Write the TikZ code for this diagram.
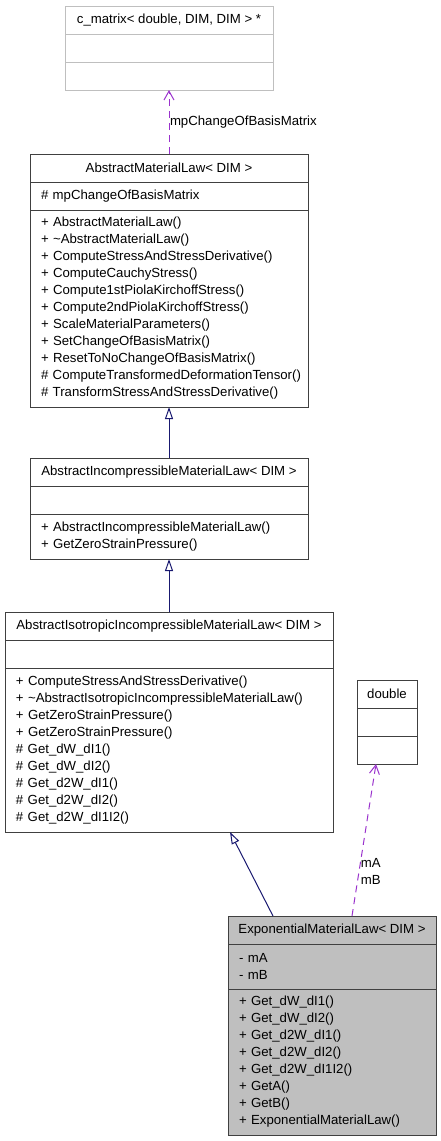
\documentclass[tikz,border=0pt]{standalone}
\usepackage{fontspec}
\setmainfont{Liberation Sans}
\usetikzlibrary{positioning,arrows.meta}
\definecolor{edgeblue}{HTML}{191970}
\definecolor{edgepurple}{HTML}{9A32CD}
\definecolor{boxgray}{HTML}{BFBFBF}
\definecolor{linegray}{HTML}{404040}

\begin{document}
\begin{tikzpicture}[x=1pt, y=-1pt,
			every node/.style = {shape=rectangle,
					draw=linegray, line width=1pt,
					inner sep=0pt, outer sep=0pt,
					font=\fontsize{13.2}{17}\selectfont},
				classname/.style = {minimum width=#1, minimum height=28pt, align=center},
				compartment/.style = {text width=#1, inner xsep=11pt, align=left, minimum height=28pt},
				ext/.style = {draw=boxgray},
				current/.style = {fill=boxgray},
				edgelabel/.style = {draw=none, anchor=west, align=left},
				inherit/.style = {draw=edgeblue, line width=1pt,
					-{Triangle[open, length=12pt, width=8pt]}},
				uses/.style = {draw=edgepurple, line width=1pt, dash pattern=on 7pt off 5pt,
					-{Straight Barb[length=9pt, width=10pt]}}]
			\useasboundingbox (0,0) rectangle (441,1141);

			\node[classname=208pt, ext] (cm) at (169,20) {c\_matrix< double, DIM, DIM > *};
			\node[compartment=186pt, ext, below=0pt of cm] (cm-attr) {};
			\node[compartment=186pt, ext, below=0pt of cm-attr] (cm-ops) {};

			\node[classname=278pt] (aml) at (169,168) {AbstractMaterialLaw< DIM >};
			\node[compartment=256pt, below=0pt of aml] (aml-attr) {\# mpChangeOfBasisMatrix};
			\node[compartment=256pt, minimum height=197pt, below=0pt of aml-attr] (aml-ops) {+ AbstractMaterialLaw()\\
				+ \textasciitilde AbstractMaterialLaw()\\
				+ ComputeStressAndStressDerivative()\\
				+ ComputeCauchyStress()\\
				+ Compute1stPiolaKirchoffStress()\\
				+ Compute2ndPiolaKirchoffStress()\\
				+ ScaleMaterialParameters()\\
				+ SetChangeOfBasisMatrix()\\
				+ ResetToNoChangeOfBasisMatrix()\\
				\mbox{\# ComputeTransformedDeformationTensor()}\\
				\# TransformStressAndStressDerivative()};

			\node[classname=278pt] (aincml) at (169,472) {AbstractIncompressibleMaterialLaw< DIM >};
			\node[compartment=256pt, below=0pt of aincml] (aincml-attr) {};
			\node[compartment=256pt, minimum height=45pt, below=0pt of aincml-attr] (aincml-ops) {+ AbstractIncompressibleMaterialLaw()\\
				+ GetZeroStrainPressure()};

			\node[classname=328pt] (aisoml) at (169,626) {AbstractIsotropicIncompressibleMaterialLaw< DIM >};
			\node[compartment=306pt, below=0pt of aisoml] (aisoml-attr) {};
			\node[compartment=306pt, minimum height=164pt, below=0pt of aisoml-attr] (aisoml-ops) {+ ComputeStressAndStressDerivative()\\
				+ \textasciitilde AbstractIsotropicIncompressibleMaterialLaw()\\
				+ GetZeroStrainPressure()\\
				+ GetZeroStrainPressure()\\
				\# Get\_dW\_dI1()\\
				\# Get\_dW\_dI2()\\
				\# Get\_d2W\_dI1()\\
				\# Get\_d2W\_dI2()\\
				\# Get\_d2W\_dI1I2()};

			\node[classname=60pt] (dbl) at (387,694) {double};
			\node[compartment=38pt, below=0pt of dbl] (dbl-attr) {};
			\node[compartment=38pt, below=0pt of dbl-attr] (dbl-ops) {};

			\node[classname=208pt, current] (eml) at (332,930) {ExponentialMaterialLaw< DIM >};
			\node[compartment=186pt, current, minimum height=45pt, below=0pt of eml] (eml-attr) {- mA\\
				- mB};
			\node[compartment=186pt, current, minimum height=146pt, below=0pt of eml-attr] (eml-ops) {+ Get\_dW\_dI1()\\
				+ Get\_dW\_dI2()\\
				+ Get\_d2W\_dI1()\\
				+ Get\_d2W\_dI2()\\
				+ Get\_d2W\_dI1I2()\\
				+ GetA()\\
				+ GetB()\\
				+ ExponentialMaterialLaw()};

			\draw[uses] (aml.north) -- (cm-ops.south)
				node[edgelabel, pos=0.5, xshift=1pt] {mpChangeOfBasisMatrix};
			\draw[inherit] (aincml.north) -- (aml-ops.south);
			\draw[inherit] (aisoml.north) -- (aincml-ops.south);
			\draw[inherit] ([xshift=45pt]eml.north west) -- ([xshift=225pt]aisoml-ops.south west);
			\draw[uses] ([xshift=124pt]eml.north west) -- ([xshift=19pt]dbl-ops.south west)
				node[edgelabel, pos=0.29, xshift=2pt] {mA\\mB};
		\end{tikzpicture}
\end{document}
